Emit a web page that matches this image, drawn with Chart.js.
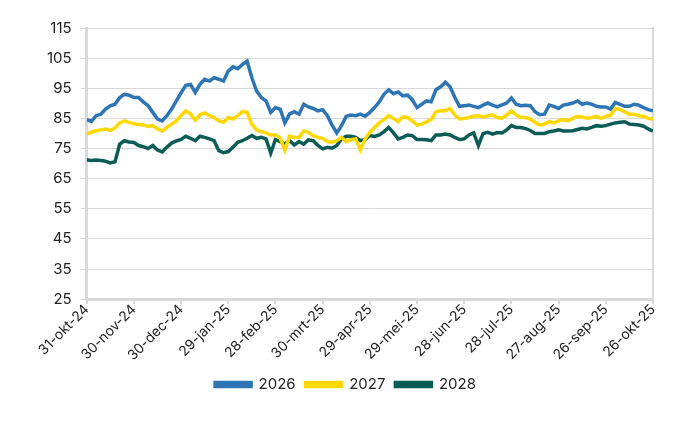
<!DOCTYPE html>
<html>
<head>
<meta charset="utf-8">
<script src="https://cdn.jsdelivr.net/npm/chart.js@4"></script>
<style>
  html, body { margin: 0; padding: 0; background: #fff; }
  #wrap { width: 700px; height: 430px; }
</style>
</head>
<body>
<div id="wrap"><canvas id="priceChart" width="700" height="430"></canvas></div>
<script>
// day offsets from 31-okt-24 (sampled every 3 days)
const days = [0, 3, 6, 9, 12, 15, 18, 21, 24, 27, 30, 33, 36, 39, 42, 45, 48, 51, 54, 57,
    60, 63, 66, 69, 72, 75, 78, 81, 84, 87, 90, 93, 96, 99, 102, 105, 108, 111, 114, 117,
    120, 123, 126, 129, 132, 135, 138, 141, 144, 147, 150, 153, 156, 159, 162, 165, 168, 171, 174, 177,
    180, 183, 186, 189, 192, 195, 198, 201, 204, 207, 210, 213, 216, 219, 222, 225, 228, 231, 234, 237,
    240, 243, 246, 249, 252, 255, 258, 261, 264, 267, 270, 273, 276, 279, 282, 285, 288, 291, 294, 297,
    300, 303, 306, 309, 312, 315, 318, 321, 324, 327, 330, 333, 336, 339, 342, 345, 348, 351, 354, 357, 360];

const tickLabels = ["31-okt-24", "30-nov-24", "30-dec-24", "29-jan-25", "28-feb-25", "30-mrt-25",
    "29-apr-25", "29-mei-25", "28-jun-25", "28-jul-25", "27-aug-25", "26-sep-25", "26-okt-25"];

const s2026 = [84.6, 84.0, 85.9, 86.4, 88.1, 89.2, 89.7, 91.9, 93.0, 92.7, 91.9, 91.9, 90.5, 89.2, 87.0, 84.8, 84.2, 85.9, 88.1, 90.8,
    93.5, 96.0, 96.3, 93.6, 96.3, 98.0, 97.4, 98.5, 98.0, 97.4, 100.7, 102.1, 101.5, 102.9, 104.0, 98.5, 94.1, 91.9, 90.8, 87.0,
    88.6, 88.1, 83.5, 86.5, 87.2, 86.4, 89.7, 88.8, 88.3, 87.5, 87.9, 85.9, 82.8, 80.2, 82.6, 85.7, 86.1, 85.9, 86.4, 85.7,
    87.0, 88.6, 90.5, 93.0, 94.5, 93.2, 93.8, 92.5, 92.7, 91.2, 88.6, 89.7, 90.8, 90.5, 94.5, 95.5, 97.0, 95.5, 92.0, 89.0,
    89.2, 89.4, 89.0, 88.6, 89.4, 90.1, 89.4, 88.8, 89.5, 90.1, 91.8, 89.7, 89.2, 89.4, 89.2, 87.2, 86.2, 86.4, 89.4, 89.0,
    88.3, 89.4, 89.7, 90.1, 90.8, 89.7, 90.1, 89.7, 89.0, 88.8, 88.8, 88.1, 90.3, 89.7, 89.0, 89.0, 89.7, 89.4, 88.6, 87.9, 87.5];

const s2027 = [79.8, 80.4, 80.9, 81.2, 81.5, 81.0, 81.8, 83.5, 84.2, 83.7, 83.2, 83.0, 82.8, 82.4, 82.6, 81.5, 80.8, 82.0, 83.1, 84.2,
    86.0, 87.5, 86.5, 84.4, 86.2, 86.8, 85.9, 85.3, 84.2, 83.7, 85.3, 84.8, 85.9, 87.3, 87.0, 83.0, 81.2, 80.6, 80.2, 79.5,
    79.6, 78.5, 74.5, 79.1, 78.7, 78.7, 80.8, 80.4, 79.3, 78.7, 78.4, 77.3, 77.1, 77.6, 78.7, 77.3, 77.9, 78.2, 74.6, 78.2,
    80.4, 82.0, 83.5, 84.6, 85.9, 85.0, 83.9, 85.5, 85.3, 84.2, 82.8, 83.1, 83.9, 84.6, 87.2, 87.5, 87.5, 88.3, 86.1, 84.8,
    85.0, 85.3, 85.7, 85.9, 85.5, 85.9, 86.1, 85.3, 85.1, 86.1, 87.5, 86.1, 85.3, 85.3, 84.8, 83.7, 82.8, 83.1, 83.9, 83.5,
    84.2, 84.6, 84.2, 85.0, 85.7, 85.5, 85.0, 85.3, 85.7, 85.0, 85.7, 86.1, 88.3, 87.9, 87.2, 86.4, 86.4, 85.9, 85.7, 85.0, 84.8];

const s2028 = [71.3, 71.0, 71.2, 71.0, 70.8, 70.2, 70.6, 76.5, 77.6, 77.2, 77.0, 76.0, 75.6, 75.0, 76.0, 74.5, 73.9, 75.5, 76.8, 77.5,
    78.0, 79.1, 78.4, 77.6, 79.1, 78.7, 78.2, 77.6, 74.3, 73.6, 74.0, 75.4, 77.1, 77.6, 78.4, 79.3, 78.4, 78.7, 78.2, 73.5,
    78.0, 77.3, 76.5, 77.6, 76.2, 77.3, 76.5, 77.9, 77.6, 76.0, 74.9, 75.4, 75.1, 76.0, 78.2, 79.1, 79.1, 78.7, 77.6, 78.0,
    79.3, 79.0, 79.5, 80.6, 82.0, 80.2, 78.2, 78.7, 79.5, 79.3, 78.0, 78.0, 77.9, 77.6, 79.5, 79.5, 79.8, 79.5, 78.7, 78.0,
    78.2, 79.5, 80.2, 76.0, 80.0, 80.4, 79.8, 80.3, 80.2, 81.2, 82.6, 82.0, 82.0, 81.6, 81.0, 80.0, 80.0, 80.0, 80.6, 80.8,
    81.2, 80.8, 80.8, 80.9, 81.3, 81.7, 81.5, 82.0, 82.6, 82.4, 82.6, 83.1, 83.5, 83.7, 83.9, 83.1, 83.0, 82.8, 82.4, 81.5, 80.8];

const seriesNames = ["2026", "2027", "2028"];
const seriesColors = ["#2e75b6", "#ffd800", "#0b5c57"];

function toPoints(values) {
    return values.map((v, i) => ({ x: days[i], y: v }));
}

const gridGrey = "#d9d9d9";
const fontFamily = "Inter, 'Liberation Sans', sans-serif";

const ctx = document.getElementById('priceChart').getContext('2d');
new Chart(ctx, {
    type: "line",
    data: {
        datasets: [s2026, s2027, s2028].map((vals, i) => ({
            label: seriesNames[i],
            data: toPoints(vals),
            borderColor: seriesColors[i],
            backgroundColor: seriesColors[i],
            borderWidth: 3.5,
            pointRadius: 0,
            tension: 0,
            fill: false
        }))
    },
    options: {
        responsive: false,
        animation: false,
        layout: { padding: { left: 38, right: 47, top: 28, bottom: 28 } },
        plugins: {
            legend: {
                position: "bottom",
                labels: {
                    color: "#222",
                    boxWidth: 36,
                    boxHeight: 4,
                    padding: 10,
                    font: { family: fontFamily, size: 15 }
                }
            },
            tooltip: { enabled: false }
        },
        scales: {
            x: {
                type: "linear",
                min: 0,
                max: 360,
                afterBuildTicks: axis => {
                    axis.ticks = tickLabels.map((t, i) => ({ value: i * 30 }));
                },
                // leave a little extra room between the date labels and the legend
                afterFit: axis => { axis.height += 6; },
                ticks: {
                    color: "#222",
                    maxRotation: 45,
                    minRotation: 45,
                    autoSkip: false,
                    padding: -3,
                    font: { family: fontFamily, size: 14 },
                    callback: (value) => tickLabels[Math.round(value / 30)]
                },
                grid: { drawOnChartArea: false, drawTicks: true, tickLength: 5, color: gridGrey, lineWidth: 2 },
                border: { color: gridGrey, width: 3 }
            },
            y: {
                min: 25,
                max: 115,
                ticks: {
                    stepSize: 10,
                    color: "#222",
                    padding: 9,
                    font: { family: fontFamily, size: 15 }
                },
                grid: { color: gridGrey, lineWidth: 1, tickLength: 6 },
                border: { color: gridGrey, width: 3 }
            },
            y2: {
                position: "right",
                min: 25,
                max: 115,
                ticks: { display: false },
                grid: { drawOnChartArea: false, drawTicks: false },
                border: { color: gridGrey, width: 2 }
            }
        }
    }
});
</script>
</body>
</html>
